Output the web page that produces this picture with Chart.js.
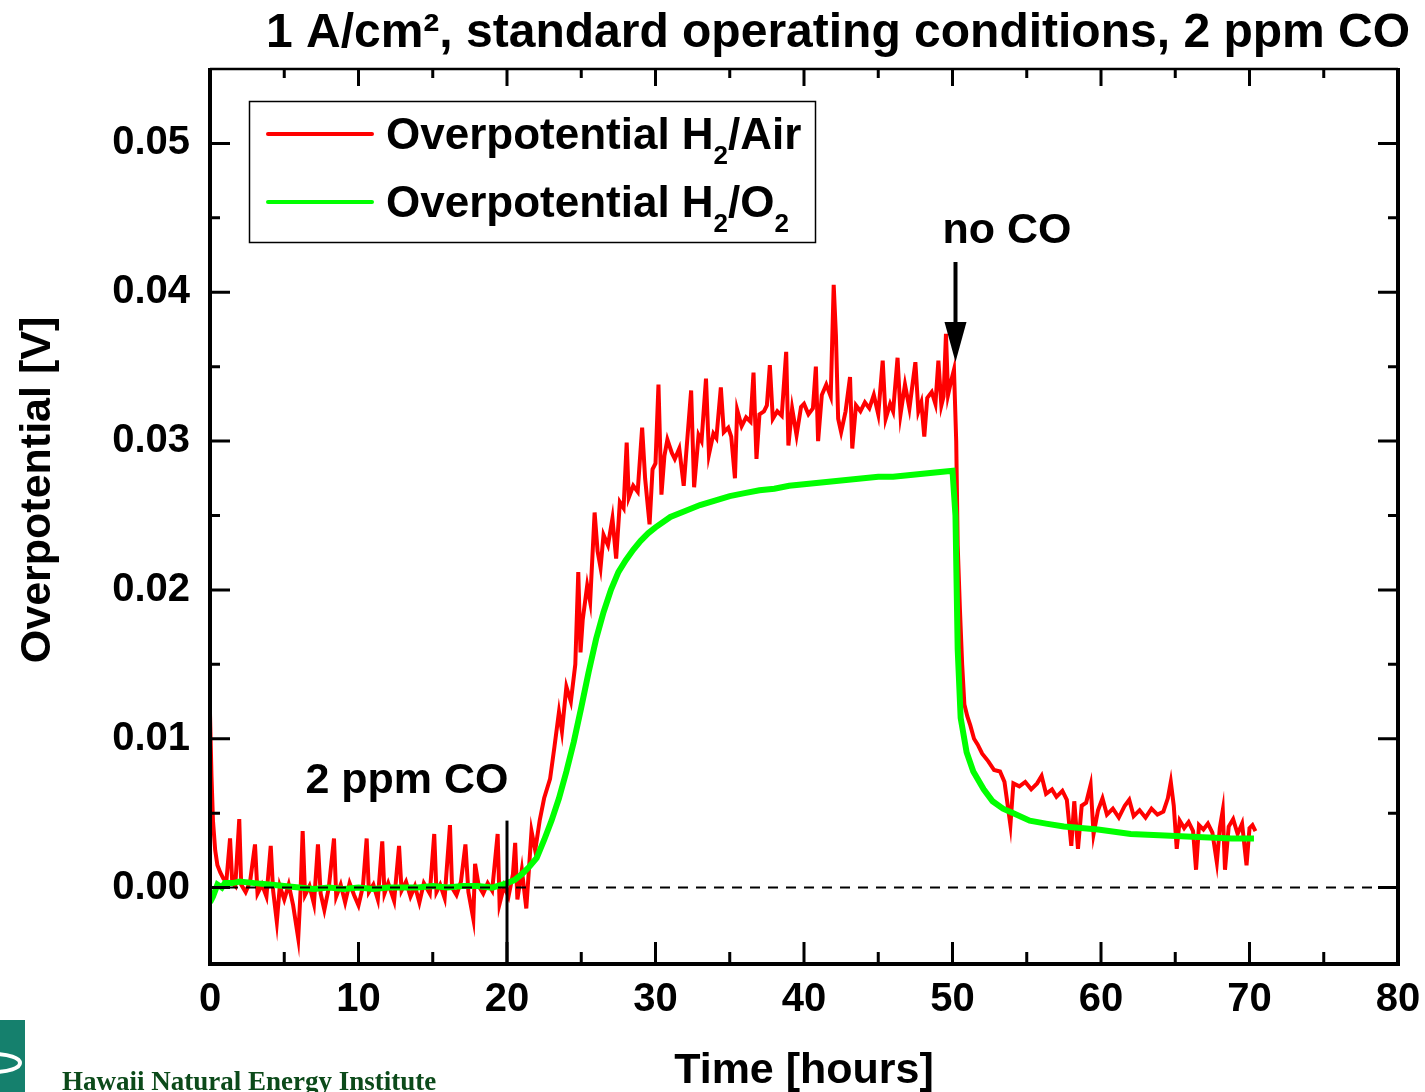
<!DOCTYPE html>
<html>
<head>
<meta charset="utf-8">
<script src="https://cdn.jsdelivr.net/npm/chart.js@4.4.0/dist/chart.umd.min.js"></script>
<style>
  html, body { margin: 0; padding: 0; background: #fff; }
  canvas { display: block; }
</style>
</head>
<body>
<canvas id="chart" width="1425" height="1092"></canvas>
<script>
/* ---------- data ---------- */
const titleText = "1 A/cm\u00b2, standard operating conditions, 2 ppm CO";
const xTitle = "Time [hours]";
const yTitle = "Overpotential [V]";
const xTickValues = [0, 10, 20, 30, 40, 50, 60, 70, 80];
const yTickValues = [0, 0.01, 0.02, 0.03, 0.04, 0.05];

// Overpotential H2/Air (red)
const redHours = [
  0.0, 0.1, 0.2, 0.35, 0.5, 0.7, 0.9, 1.1, 1.35, 1.5, 1.7, 1.97, 2.1, 2.4, 2.7, 3.03, 3.2, 3.5, 3.8, 4.09,
  4.25, 4.5, 4.7, 5.0, 5.3, 5.6, 5.94, 6.1, 6.24, 6.4, 6.7, 7.0, 7.27, 7.45, 7.7, 8.0, 8.35, 8.5, 8.8, 9.1,
  9.4, 9.7, 10.0, 10.3, 10.55, 10.7, 11.0, 11.3, 11.6, 11.75, 12.0, 12.4, 12.73, 12.9, 13.2, 13.5, 13.8, 14.1, 14.4, 14.8,
  15.1, 15.25, 15.5, 15.8, 16.16, 16.3, 16.6, 16.9, 17.2, 17.4, 17.73, 17.85, 18.1, 18.4, 18.7, 19.0, 19.37, 19.5, 19.8, 20.1,
  20.4, 20.55, 20.7, 21.0, 21.3, 21.65, 21.9, 22.2, 22.5, 22.9, 23.2, 23.5, 23.7, 24.0, 24.3, 24.6, 24.8, 24.95, 25.1, 25.4,
  25.6, 25.9, 26.1, 26.3, 26.5, 26.8, 27.1, 27.35, 27.6, 27.85, 28.06, 28.2, 28.5, 28.8, 29.1, 29.3, 29.6, 29.8, 30.0, 30.2,
  30.4, 30.6, 30.8, 31.1, 31.3, 31.6, 31.9, 32.1, 32.4, 32.6, 32.9, 33.1, 33.4, 33.6, 33.9, 34.1, 34.4, 34.6, 34.9, 35.1,
  35.35, 35.5, 35.8, 36.1, 36.4, 36.6, 36.8, 37.0, 37.3, 37.5, 37.7, 37.9, 38.2, 38.5, 38.8, 38.95, 39.2, 39.5, 39.8, 40.0,
  40.3, 40.6, 40.8, 40.95, 41.2, 41.5, 41.8, 42.0, 42.15, 42.3, 42.5, 42.8, 43.1, 43.25, 43.5, 43.8, 44.1, 44.4, 44.7, 45.0,
  45.3, 45.5, 45.8, 46.0, 46.3, 46.5, 46.8, 47.1, 47.5, 47.7, 47.9, 48.1, 48.3, 48.6, 48.85, 49.05, 49.25, 49.4, 49.56, 49.7,
  49.9, 50.1, 50.25, 50.35, 50.5, 50.65, 50.8, 51.0, 51.2, 51.45, 51.7, 52.0, 52.4, 52.8, 53.2, 53.5, 53.9, 54.1, 54.5, 54.9,
  55.3, 55.7, 56.0, 56.3, 56.7, 57.0, 57.4, 57.7, 58.0, 58.2, 58.45, 58.7, 59.0, 59.3, 59.5, 59.8, 60.1, 60.4, 60.8, 61.2,
  61.6, 61.9, 62.2, 62.6, 63.0, 63.4, 63.8, 64.2, 64.5, 64.7, 64.9, 65.1, 65.3, 65.6, 65.9, 66.2, 66.4, 66.6, 66.9, 67.2,
  67.5, 67.8, 68.0, 68.2, 68.35, 68.6, 68.9, 69.2, 69.5, 69.8, 70.0, 70.2, 70.4
];
const redValues = [
  0.0117, 0.0075, 0.0045, 0.0025, 0.0015, 0.0010, 0.0006, 0.0004, 0.0033, 0.0003, 0.0001, 0.0046, 0.0002, -0.0003, 0.0004, 0.0029, -0.0004, 0.0002, -0.0006, 0.0028,
  -0.0002, -0.0023, 0.0001, -0.0008, 0.0002, -0.0012, -0.0034, -0.0002, 0.0038, -0.0005, 0.0001, -0.0011, 0.0029, -0.0004, -0.0015, 0.0000, 0.0033, -0.0006, 0.0002, -0.0010,
  0.0003, -0.0005, -0.0012, 0.0001, 0.0033, -0.0003, 0.0002, -0.0008, 0.0031, -0.0004, 0.0003, -0.0009, 0.0028, -0.0002, 0.0004, -0.0006, 0.0001, -0.0010, 0.0003, -0.0004,
  0.0036, -0.0003, 0.0002, -0.0007, 0.0042, 0.0000, -0.0005, 0.0004, 0.0029, -0.0003, -0.0021, 0.0016, 0.0001, -0.0004, 0.0003, -0.0002, 0.0036, -0.0011, 0.0001, -0.0006,
  0.0009, 0.0030, -0.0008, 0.0012, -0.0014, 0.0038, 0.0025, 0.0045, 0.0060, 0.0073, 0.0095, 0.0118, 0.0105, 0.0135, 0.0125, 0.0150, 0.0212, 0.0158, 0.0180, 0.0203,
  0.0192, 0.0252, 0.0226, 0.0215, 0.0237, 0.0230, 0.0248, 0.0221, 0.0259, 0.0255, 0.0299, 0.0262, 0.0270, 0.0266, 0.0309, 0.0275, 0.0244, 0.0281, 0.0285, 0.0338,
  0.0264, 0.0290, 0.0301, 0.0292, 0.0288, 0.0295, 0.0270, 0.0296, 0.0334, 0.0269, 0.0304, 0.0300, 0.0342, 0.0291, 0.0305, 0.0302, 0.0336, 0.0306, 0.0309, 0.0303,
  0.0275, 0.0321, 0.0310, 0.0316, 0.0313, 0.0346, 0.0288, 0.0318, 0.0320, 0.0324, 0.0351, 0.0315, 0.0320, 0.0317, 0.0360, 0.0297, 0.0322, 0.0304, 0.0323, 0.0325,
  0.0318, 0.0322, 0.0350, 0.0300, 0.0331, 0.0338, 0.0330, 0.0405, 0.0371, 0.0315, 0.0306, 0.0320, 0.0343, 0.0295, 0.0324, 0.0320, 0.0326, 0.0322, 0.0331, 0.0318,
  0.0354, 0.0315, 0.0325, 0.0320, 0.0356, 0.0318, 0.0338, 0.0322, 0.0353, 0.0320, 0.0326, 0.0303, 0.0329, 0.0333, 0.0325, 0.0354, 0.0324, 0.0330, 0.0372, 0.0331,
  0.0340, 0.0348, 0.0300, 0.0230, 0.0187, 0.0150, 0.0123, 0.0115, 0.0109, 0.0100, 0.0096, 0.0090, 0.0085, 0.0079, 0.0078, 0.0071, 0.0042, 0.0070, 0.0068, 0.0071,
  0.0066, 0.0070, 0.0075, 0.0063, 0.0066, 0.0061, 0.0065, 0.0059, 0.0028, 0.0058, 0.0026, 0.0055, 0.0057, 0.0069, 0.0036, 0.0052, 0.0060, 0.0049, 0.0053, 0.0047,
  0.0055, 0.0059, 0.0048, 0.0052, 0.0047, 0.0053, 0.0049, 0.0051, 0.0060, 0.0071, 0.0055, 0.0026, 0.0045, 0.0040, 0.0044, 0.0038, 0.0012, 0.0042, 0.0039, 0.0043,
  0.0037, 0.0017, 0.0040, 0.0052, 0.0012, 0.0041, 0.0046, 0.0036, 0.0043, 0.0015, 0.0040, 0.0042, 0.0038
];

// Overpotential H2/O2 (green)
const greenHours = [
  0, 0.2, 0.5, 0.8, 1, 1.5, 2, 3, 4, 5, 6, 7, 8, 9, 10, 11, 12, 13, 14, 15,
  16, 17, 18, 19, 20, 20.5, 21, 21.5, 22, 22.5, 23, 23.5, 24, 24.5, 25, 25.5, 26, 26.5, 27, 27.5,
  28, 28.5, 29, 29.5, 30, 31, 32, 33, 34, 35, 36, 37, 38, 39, 40, 41, 42, 43, 44, 45,
  46, 47, 48, 49, 50, 50.2, 50.35, 50.55, 50.95, 51.4, 52.1, 52.7, 53.4, 54.1, 55.2, 56.3, 57.5, 59.8, 62.0, 64.3,
  66.5, 68.8, 70.3
];
const greenValues = [
  -0.0010, -0.0006, 0.0002, 0.0000, 0.0003, 0.0003, 0.0004, 0.0003, 0.0002, 0.0001, 0.0000, -0.0001, 0.0000, -0.0001, 0.0000, -0.0001, 0.0000, 0.0000, 0.0000, 0.0001,
  0.0000, 0.0001, 0.0001, 0.0000, 0.0003, 0.0005, 0.0009, 0.0014, 0.0020, 0.0032, 0.0045, 0.0060, 0.0078, 0.0098, 0.0121, 0.0145, 0.0167, 0.0185, 0.0200, 0.0212,
  0.0220, 0.0227, 0.0233, 0.0238, 0.0242, 0.0249, 0.0253, 0.0257, 0.0260, 0.0263, 0.0265, 0.0267, 0.0268, 0.0270, 0.0271, 0.0272, 0.0273, 0.0274, 0.0275, 0.0276,
  0.0276, 0.0277, 0.0278, 0.0279, 0.0280, 0.0250, 0.0160, 0.0114, 0.0091, 0.0078, 0.0066, 0.0058, 0.0053, 0.0050, 0.0045, 0.0043, 0.0041, 0.0039, 0.0036, 0.0035,
  0.0034, 0.0033, 0.0033
];

const coOnHour = 20;   // "2 ppm CO" marker
const coOffHour = 50;  // "no CO" arrow

/* ---------- helpers ---------- */
const FONT = "'Liberation Sans', Arial, sans-serif";
const toPoints = (xs, ys) => xs.map((x, i) => ({ x: x, y: ys[i] }));

function subText(ctx, parts, x, y, size) {
  // parts: [text, isSub]
  let cx = x;
  parts.forEach(([t, sub]) => {
    ctx.font = "bold " + (sub ? Math.round(size * 0.6) : size) + "px " + FONT;
    ctx.fillText(t, cx, sub ? y + size * 0.35 : y);
    cx += ctx.measureText(t).width;
  });
}

const decorations = {
  id: "decorations",
  afterDraw(chart) {
    const ctx = chart.ctx;
    const { left, right, top, bottom } = chart.chartArea;
    const xs = chart.scales.x, ys = chart.scales.y;
    ctx.save();

    // zero line
    ctx.strokeStyle = "#000";
    ctx.lineWidth = 2;
    ctx.setLineDash([10, 8]);
    ctx.beginPath();
    ctx.moveTo(left, ys.getPixelForValue(0));
    ctx.lineTo(right, ys.getPixelForValue(0));
    ctx.stroke();
    ctx.setLineDash([]);

    // CO on marker
    const x20 = xs.getPixelForValue(coOnHour);
    ctx.lineWidth = 3;
    ctx.beginPath();
    ctx.moveTo(x20, ys.getPixelForValue(0.0045));
    ctx.lineTo(x20, bottom);
    ctx.stroke();

    // ticks (inward)
    ctx.lineWidth = 3;
    ctx.beginPath();
    for (let i = 0; i <= 16; i++) {
      const px = xs.getPixelForValue(i * 5);
      const major = i % 2 === 0;
      ctx.moveTo(px, bottom); ctx.lineTo(px, bottom - (major ? 20 : 10));
      ctx.moveTo(px, top); ctx.lineTo(px, top + (major ? 17 : 9));
    }
    for (let i = 0; i <= 10; i++) {
      const py = ys.getPixelForValue(i * 0.005);
      const major = i % 2 === 0;
      ctx.moveTo(left, py); ctx.lineTo(left + (major ? 20 : 10), py);
      ctx.moveTo(right, py); ctx.lineTo(right - (major ? 20 : 10), py);
    }
    ctx.stroke();

    // frame
    ctx.lineWidth = 4;
    ctx.beginPath();
    ctx.moveTo(left, top - 1); ctx.lineTo(left, bottom + 2);
    ctx.lineTo(right, bottom + 2); ctx.lineTo(right, top - 1);
    ctx.stroke();
    ctx.lineWidth = 2.5;
    ctx.beginPath();
    ctx.moveTo(left, top); ctx.lineTo(right, top);
    ctx.stroke();

    ctx.fillStyle = "#000";
    // title
    ctx.font = "bold 48px " + FONT;
    ctx.textAlign = "center";
    ctx.textBaseline = "alphabetic";
    ctx.fillText(titleText, 838, 47);

    // axis titles
    ctx.font = "bold 43px " + FONT;
    ctx.fillText(xTitle, 804, 1083);
    ctx.save();
    ctx.translate(50, 490);
    ctx.rotate(-Math.PI / 2);
    ctx.fillText(yTitle, 0, 0);
    ctx.restore();

    // annotations
    ctx.fillText("2 ppm CO", 407, 793);
    ctx.fillText("no CO", 1007, 243);

    // arrow
    const x50 = xs.getPixelForValue(coOffHour) + 3;
    ctx.lineWidth = 4;
    ctx.beginPath();
    ctx.moveTo(x50, 262); ctx.lineTo(x50, 330);
    ctx.stroke();
    ctx.beginPath();
    ctx.moveTo(x50 - 11, 322); ctx.lineTo(x50 + 11, 322); ctx.lineTo(x50, 362);
    ctx.closePath();
    ctx.fill();

    // legend
    ctx.lineWidth = 1.5;
    ctx.strokeRect(249.5, 101.5, 566, 141);
    ctx.lineWidth = 4;
    ctx.lineCap = "round";
    ctx.strokeStyle = "#ff0000";
    ctx.beginPath(); ctx.moveTo(268, 134); ctx.lineTo(372, 134); ctx.stroke();
    ctx.strokeStyle = "#00ff00";
    ctx.beginPath(); ctx.moveTo(268, 202); ctx.lineTo(372, 202); ctx.stroke();
    ctx.textAlign = "left";
    subText(ctx, [["Overpotential H", false], ["2", true], ["/Air", false]], 386, 149, 44);
    subText(ctx, [["Overpotential H", false], ["2", true], ["/O", false], ["2", true]], 386, 217, 44);

    // logo
    ctx.fillStyle = "#15806d";
    ctx.fillRect(0, 1020, 25, 72);
    ctx.strokeStyle = "#fff";
    ctx.lineWidth = 4;
    ctx.lineCap = "butt";
    ctx.beginPath();
    ctx.ellipse(-6, 1063, 26, 9, 0, -Math.PI * 0.5, Math.PI * 0.5);
    ctx.stroke();
    ctx.fillStyle = "#0c4a1a";
    ctx.font = "bold 27px 'Liberation Serif', 'Times New Roman', serif";
    ctx.fillText("Hawaii Natural Energy Institute", 62, 1090);

    ctx.restore();
  }
};

const chart = new Chart(document.getElementById("chart"), {
  type: "line",
  data: {
    datasets: [
      {
        label: "Overpotential H2/O2",
        data: toPoints(greenHours, greenValues),
        borderColor: "#00ff00",
        borderWidth: 6,
        pointRadius: 0,
        tension: 0,
        order: 0
      },
      {
        label: "Overpotential H2/Air",
        data: toPoints(redHours, redValues),
        borderColor: "#ff0000",
        borderWidth: 4,
        pointRadius: 0,
        tension: 0,
        order: 1
      }
    ]
  },
  options: {
    responsive: false,
    animation: false,
    devicePixelRatio: 1,
    layout: { padding: { top: 69, right: 27, left: 0, bottom: 0 } },
    plugins: { legend: { display: false }, tooltip: { enabled: false } },
    scales: {
      x: {
        type: "linear",
        min: 0,
        max: 80,
        afterBuildTicks: s => { s.ticks = xTickValues.map(v => ({ value: v })); },
        afterFit: s => { s.height = 130; s.paddingLeft = 0; s.paddingRight = 0; },
        grid: { display: false, drawTicks: false },
        border: { display: false },
        ticks: {
          padding: 14,
          color: "#000",
          maxRotation: 0,
          autoSkip: false,
          font: { family: FONT, size: 40, weight: "bold" }
        }
      },
      y: {
        type: "linear",
        min: -0.005,
        max: 0.055,
        afterBuildTicks: s => { s.ticks = yTickValues.map(v => ({ value: v })); },
        afterFit: s => { s.width = 210; },
        grid: { display: false, drawTicks: false },
        border: { display: false },
        ticks: {
          padding: 20,
          color: "#000",
          autoSkip: false,
          callback: v => Number(v).toFixed(2),
          font: { family: FONT, size: 40, weight: "bold" }
        }
      }
    }
  },
  plugins: [decorations]
});
</script>
</body>
</html>
